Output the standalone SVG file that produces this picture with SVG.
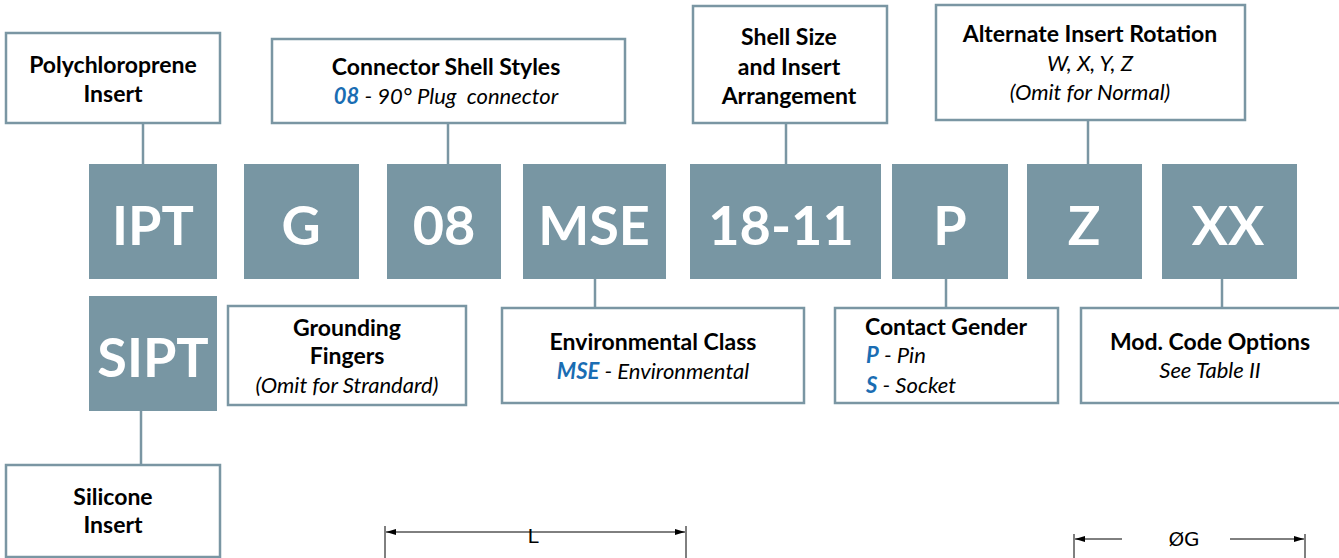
<svg xmlns="http://www.w3.org/2000/svg" width="1339" height="558" viewBox="0 0 1339 558">
<style>
.blk{fill:#7896a3}
.lbl{fill:#fff;stroke:#7a96a3;stroke-width:2.5}
.con{stroke:#7a96a3;stroke-width:2.5;fill:none}
.big{font-family:Lato,"Open Sans",sans-serif;font-weight:bold;font-size:54px;fill:#fff;text-anchor:middle}
.t{font-family:Lato,"Noto Sans",sans-serif;font-weight:bold;font-size:23px;fill:#000;text-anchor:middle}
.i{font-family:Lato,"Noto Sans",sans-serif;font-style:italic;font-size:22px;fill:#000;text-anchor:middle;white-space:pre}
.s{text-anchor:start}
.b{fill:#1a6db3;font-weight:bold}
.dim{stroke:#000;stroke-width:1;fill:none}
.dt{font-family:"DejaVu Sans",sans-serif;font-size:20px;fill:#000;text-anchor:middle}
</style>
<defs>
<marker id="ar" markerWidth="10" markerHeight="6" refX="10" refY="3" orient="auto-start-reverse" markerUnits="userSpaceOnUse">
<path d="M0,0 L10,3 L0,6 Z" fill="#000"/>
</marker>
</defs>
<g id="connectors">
<line class="con" x1="143" y1="123" x2="143" y2="164"/>
<line class="con" x1="448" y1="123" x2="448" y2="164"/>
<line class="con" x1="786" y1="123" x2="786" y2="164"/>
<line class="con" x1="1088" y1="120" x2="1088" y2="164"/>
<line class="con" x1="595" y1="279" x2="595" y2="308"/>
<line class="con" x1="946" y1="279" x2="946" y2="308"/>
<line class="con" x1="1222" y1="279" x2="1222" y2="308"/>
<line class="con" x1="141" y1="411" x2="141" y2="465"/>
</g>
<g id="code-IPT"><rect class="blk" x="89" y="164" width="128" height="115"/><text class="big" x="153" y="245">IPT</text></g>
<g id="code-G"><rect class="blk" x="244" y="164" width="115" height="115"/><text class="big" x="301" y="245">G</text></g>
<g id="code-08"><rect class="blk" x="387" y="164" width="114" height="115"/><text class="big" x="444" y="245">08</text></g>
<g id="code-MSE"><rect class="blk" x="523" y="164" width="143" height="115"/><text class="big" x="594" y="245">MSE</text></g>
<g id="code-18-11"><rect class="blk" x="690" y="164" width="191" height="115"/><text class="big" x="781" y="245">18-11</text></g>
<g id="code-P"><rect class="blk" x="892" y="164" width="116" height="115"/><text class="big" x="950" y="245">P</text></g>
<g id="code-Z"><rect class="blk" x="1027" y="164" width="115" height="115"/><text class="big" x="1084" y="245">Z</text></g>
<g id="code-XX"><rect class="blk" x="1162" y="164" width="135" height="115"/><text class="big" x="1228" y="245">XX</text></g>
<g id="code-SIPT"><rect class="blk" x="89" y="296" width="128" height="115"/><text class="big" x="153" y="377">SIPT</text></g>
<g id="lbl-poly"><rect class="lbl" x="6" y="33" width="214" height="90"/><text class="t" x="113" y="73">Polychloroprene</text><text class="t" x="113" y="102">Insert</text></g>
<g id="lbl-shell-styles"><rect class="lbl" x="272" y="39" width="353" height="84"/><text class="t" x="446" y="75">Connector Shell Styles</text><text class="i" x="446" y="104" xml:space="preserve"><tspan class="b">08</tspan> - 90° Plug  connector</text></g>
<g id="lbl-shell-size"><rect class="lbl" x="693" y="6" width="194" height="117"/><text class="t" x="789" y="45">Shell Size</text><text class="t" x="789" y="75">and Insert</text><text class="t" x="789" y="104">Arrangement</text></g>
<g id="lbl-rotation"><rect class="lbl" x="936" y="5" width="309" height="115"/><text class="t" x="1090" y="42">Alternate Insert Rotation</text><text class="i" x="1090" y="71">W, X, Y, Z</text><text class="i" x="1090" y="100">(Omit for Normal)</text></g>
<g id="lbl-grounding"><rect class="lbl" x="228" y="306" width="238" height="99"/><text class="t" x="347" y="336">Grounding</text><text class="t" x="347" y="364">Fingers</text><text class="i" x="347" y="393">(Omit for Strandard)</text></g>
<g id="lbl-env"><rect class="lbl" x="502" y="308" width="302" height="95"/><text class="t" x="653" y="350">Environmental Class</text><text class="i" x="653" y="379"><tspan class="b">MSE</tspan> - Environmental</text></g>
<g id="lbl-gender"><rect class="lbl" x="835" y="308" width="223" height="95"/><text class="t" x="946" y="335">Contact Gender</text><text class="i s" x="866" y="363"><tspan class="b">P</tspan> - Pin</text><text class="i s" x="866" y="393"><tspan class="b">S</tspan> - Socket</text></g>
<g id="lbl-mod"><rect class="lbl" x="1081" y="308" width="263" height="95"/><text class="t" x="1210" y="350">Mod. Code Options</text><text class="i" x="1210" y="378">See Table II</text></g>
<g id="lbl-silicone"><rect class="lbl" x="6" y="465" width="214" height="92"/><text class="t" x="113" y="505">Silicone</text><text class="t" x="113" y="533">Insert</text></g>
<g id="dim-L">
<line class="dim" x1="385" y1="526" x2="385" y2="558"/>
<line class="dim" x1="686" y1="526" x2="686" y2="558"/>
<line class="dim" x1="386" y1="532" x2="685" y2="532" marker-start="url(#ar)" marker-end="url(#ar)"/>
<text class="dt" x="533" y="543">L</text>
</g>
<g id="dim-G">
<line class="dim" x1="1074" y1="534" x2="1074" y2="558"/>
<line class="dim" x1="1305" y1="534" x2="1305" y2="558"/>
<line class="dim" x1="1075" y1="539" x2="1122" y2="539" marker-start="url(#ar)"/>
<line class="dim" x1="1230" y1="539" x2="1304" y2="539" marker-end="url(#ar)"/>
<text class="dt" x="1184" y="546">ØG</text>
</g>
</svg>
